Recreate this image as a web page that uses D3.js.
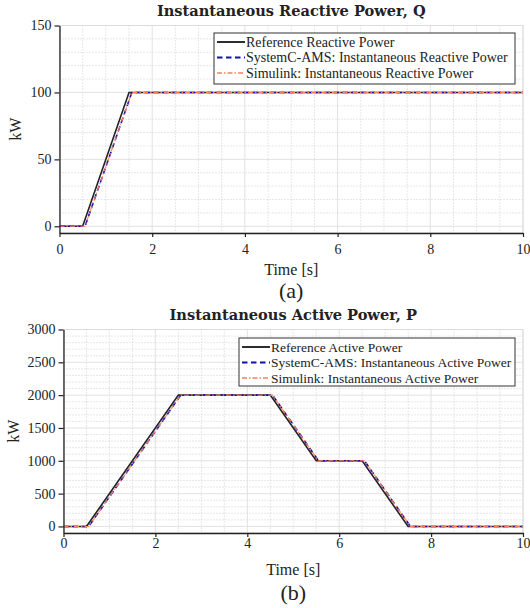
<!DOCTYPE html>
<html>
<head>
<meta charset="utf-8">
<script src="https://cdn.jsdelivr.net/npm/d3@7"></script>
<style>
body {margin:0; background:#fff;}
text {font-family:"Liberation Serif","Times New Roman",serif; fill:#222;}
.title {font-family:"DejaVu Serif",serif; font-weight:bold; font-size:14.6px;}
</style>
</head>
<body>
<svg id="fig" width="530" height="608"></svg>
<script>
// time axis (shared)
var xTicks = [0, 2, 4, 6, 8, 10];

// (a) reactive power Q, kW
var qTimeRef = [0, 0.5, 1.5, 10];
var qRef = [0, 0, 100, 100];
var qTimeSim = [0, 0.55, 1.56, 10];
var qSystemC = [0, 0, 100, 100];
var qSimulink = [0, 0, 100, 100];
var qTicks = [0, 50, 100, 150];
var qLegend = ["Reference Reactive Power", "SystemC-AMS: Instantaneous Reactive Power", "Simulink: Instantaneous Reactive Power"];

// (b) active power P, kW
var pTimeRef = [0, 0.5, 2.5, 4.5, 5.5, 6.5, 7.5, 10];
var pRef = [0, 0, 2000, 2000, 1000, 1000, 0, 0];
var pTimeSim = [0, 0.55, 2.55, 4.55, 5.55, 6.55, 7.55, 10];
var pSystemC = [0, 0, 2000, 2000, 1000, 1000, 0, 0];
var pSimulink = [0, 0, 2000, 2000, 1000, 1000, 0, 0];
var pTicks = [0, 500, 1000, 1500, 2000, 2500, 3000];
var pLegend = ["Reference Active Power", "SystemC-AMS: Instantaneous Active Power", "Simulink: Instantaneous Active Power"];

var styles = [
  {color:"#222222", width:1.6, dash:null},
  {color:"#1010b0", width:1.6, dash:"5.5,3.5"},
  {color:"#ff7f5e", width:1.1, dash:"5,2,1.5,2"}
];

var svg = d3.select("#fig");

function zip(t, v) {
  return t.map(function(d, i) { return [d, v[i]]; });
}

function drawPanel(opt) {
  var g = svg.append("g");
  var x = d3.scaleLinear().domain([0, 10]).range([opt.left, opt.right]);
  var y = d3.scaleLinear().domain(opt.yDomain).range([opt.bottom, opt.top]);

  // minor grid
  g.selectAll(".mx").data(d3.range(0.5, 10, 0.5).filter(function(d){ return d % 2 != 0; }))
    .enter().append("line")
    .attr("x1", function(d){ return x(d); }).attr("x2", function(d){ return x(d); })
    .attr("y1", opt.top).attr("y2", opt.bottom)
    .attr("stroke", "#c4c4c4").attr("stroke-width", 0.8).attr("stroke-dasharray", "1,2");
  g.selectAll(".my").data(d3.range(0, opt.yDomain[1], opt.minor).filter(function(d){ return d % opt.major != 0; }))
    .enter().append("line")
    .attr("x1", opt.left).attr("x2", opt.right)
    .attr("y1", function(d){ return y(d); }).attr("y2", function(d){ return y(d); })
    .attr("stroke", "#c4c4c4").attr("stroke-width", 0.8).attr("stroke-dasharray", "1,2");
  // major grid
  g.selectAll(".gx").data(xTicks).enter().append("line")
    .attr("x1", function(d){ return x(d); }).attr("x2", function(d){ return x(d); })
    .attr("y1", opt.top).attr("y2", opt.bottom)
    .attr("stroke", "#e2e2e2").attr("stroke-width", 1);
  g.selectAll(".gy").data(opt.ticks).enter().append("line")
    .attr("x1", opt.left).attr("x2", opt.right)
    .attr("y1", function(d){ return y(d); }).attr("y2", function(d){ return y(d); })
    .attr("stroke", "#e2e2e2").attr("stroke-width", 1);
  g.append("rect")
    .attr("x", opt.left).attr("y", opt.top)
    .attr("width", opt.right - opt.left).attr("height", opt.bottom - opt.top)
    .attr("fill", "none").attr("stroke", "#dcdcdc");

  var line = d3.line().x(function(d){ return x(d[0]); }).y(function(d){ return y(d[1]); });
  opt.series.forEach(function(s, i) {
    g.append("path")
      .datum(zip(s.t, s.v))
      .attr("d", line)
      .attr("fill", "none")
      .attr("stroke", styles[i].color)
      .attr("stroke-width", styles[i].width)
      .attr("stroke-dasharray", styles[i].dash);
  });

  var ax = g.append("g")
    .attr("transform", "translate(0," + opt.bottom + ")")
    .call(d3.axisBottom(x).tickValues(xTicks).tickSize(4).tickSizeOuter(0).tickPadding(opt.xPad));
  var ay = g.append("g")
    .attr("transform", "translate(" + opt.left + ",0)")
    .call(d3.axisLeft(y).tickValues(opt.ticks).tickFormat(d3.format("d")).tickSize(5).tickSizeOuter(0).tickPadding(3));
  [ax, ay].forEach(function(a) {
    a.select(".domain").attr("stroke", "#222").attr("stroke-width", 1.3);
    a.selectAll(".tick line").attr("stroke", "#222").attr("stroke-width", 1.2);
    a.selectAll("text").attr("font-family", null).style("font-size", "14px").attr("fill", "#222");
  });

  var mid = (opt.left + opt.right) / 2;
  g.append("text").attr("class", "title")
    .attr("x", mid).attr("y", opt.titleY)
    .attr("text-anchor", "middle").text(opt.title);
  g.append("text")
    .attr("x", mid).attr("y", opt.xLabelY)
    .attr("text-anchor", "middle").style("font-size", "16px").text("Time [s]");
  g.append("text")
    .attr("x", mid).attr("y", opt.capY)
    .attr("text-anchor", "middle").style("font-size", "22px").text(opt.caption);
  g.append("text")
    .attr("transform", "translate(" + opt.yLabelX + "," + ((opt.top + opt.bottom) / 2) + ") rotate(-90)")
    .attr("text-anchor", "middle").style("font-size", "16px").text("kW");

  // legend
  var L = opt.legend;
  var lg = g.append("g");
  lg.append("rect")
    .attr("x", L.x).attr("y", L.y).attr("width", L.w).attr("height", L.h)
    .attr("fill", "#fff").attr("stroke", "#333").attr("stroke-width", 1);
  opt.labels.forEach(function(lab, i) {
    var ry = L.y + 9 + i * 15.5;
    lg.append("line")
      .attr("x1", L.x + 3).attr("x2", L.x + 31)
      .attr("y1", ry).attr("y2", ry)
      .attr("stroke", styles[i].color)
      .attr("stroke-width", styles[i].width + 0.3)
      .attr("stroke-dasharray", styles[i].dash);
    lg.append("text")
      .attr("x", L.x + 32).attr("y", ry + 4.5)
      .style("font-size", L.font + "px").text(lab);
  });
}

drawPanel({
  left:59.5, right:523, top:25.5, bottom:233, yDomain:[-5, 150],
  ticks:qTicks, minor:10, major:50, xPad:7,
  title:"Instantaneous Reactive Power, Q", titleY:16, xLabelY:275, capY:298, caption:"(a)", yLabelX:21,
  series:[{t:qTimeRef, v:qRef}, {t:qTimeSim, v:qSystemC}, {t:qTimeSim, v:qSimulink}],
  labels:qLegend,
  legend:{x:214, y:33, w:301, h:51, font:14}
});

drawPanel({
  left:63.5, right:523, top:329.5, bottom:533, yDomain:[-100, 3000],
  ticks:pTicks, minor:100, major:500, xPad:1,
  title:"Instantaneous Active Power, P", titleY:320, xLabelY:575, capY:600, caption:"(b)", yLabelX:19,
  series:[{t:pTimeRef, v:pRef}, {t:pTimeSim, v:pSystemC}, {t:pTimeSim, v:pSimulink}],
  labels:pLegend,
  legend:{x:239, y:338, w:276, h:48, font:13.5}
});
</script>
</body>
</html>
